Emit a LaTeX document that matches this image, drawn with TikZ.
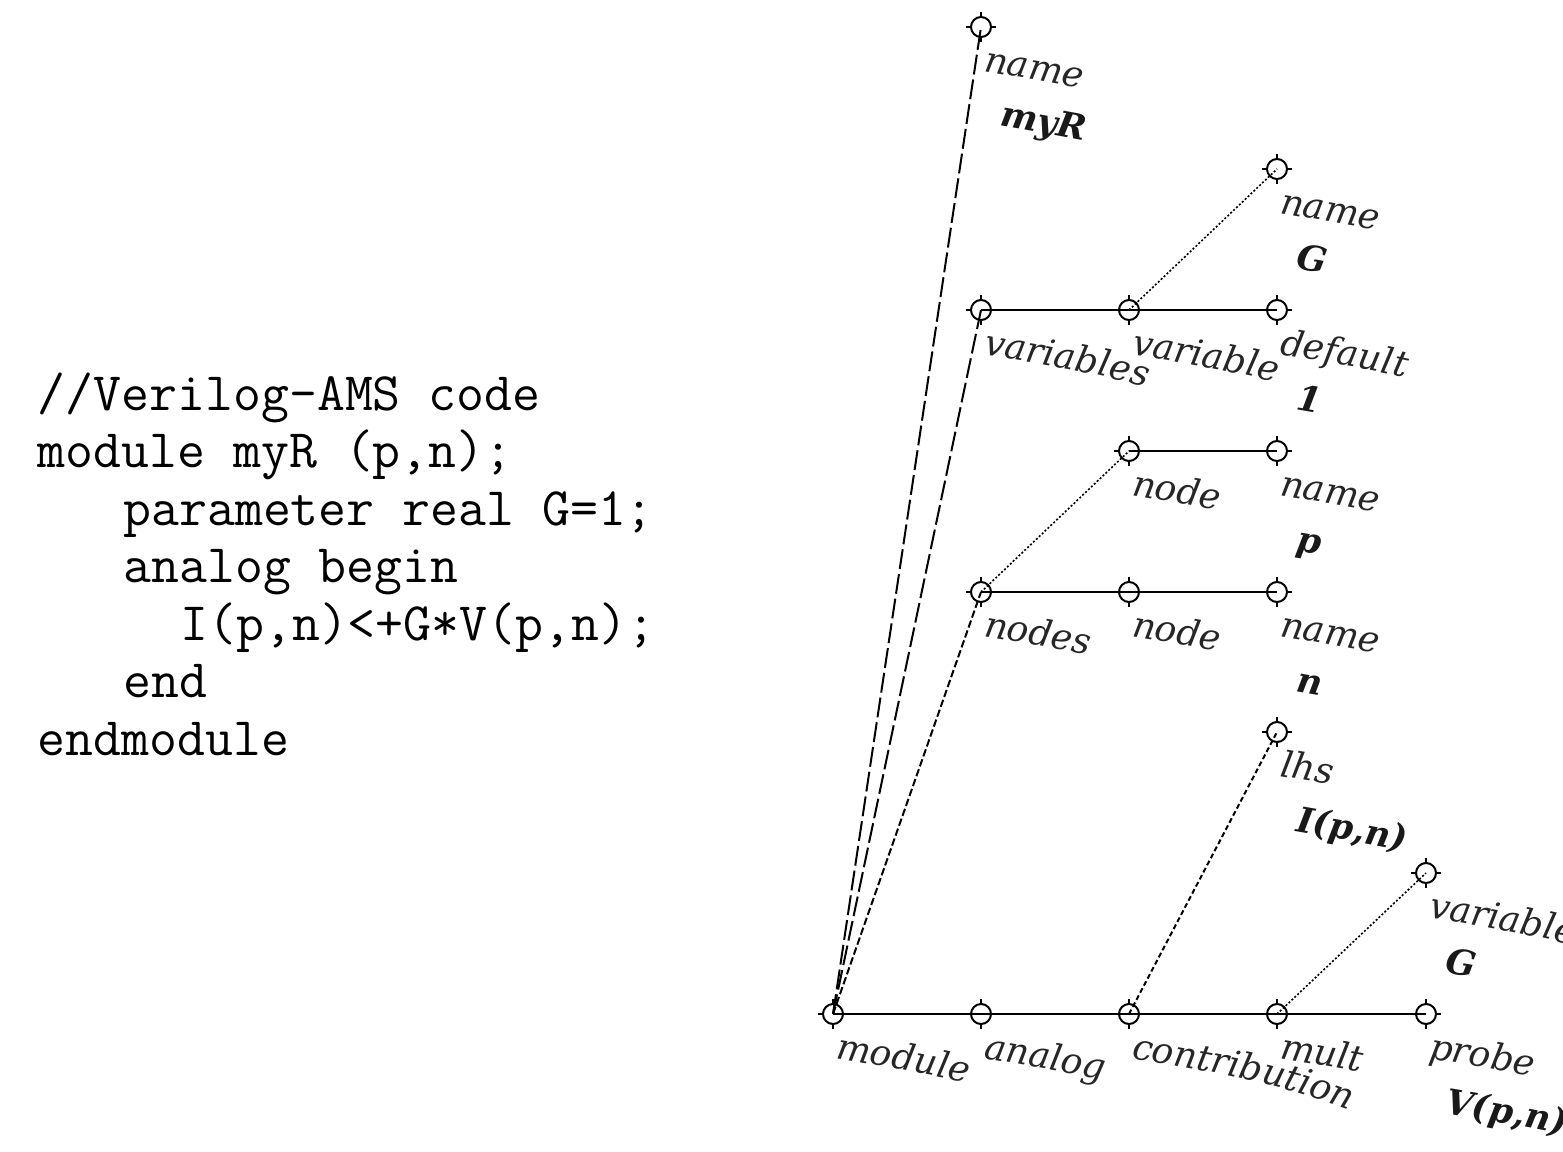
\documentclass[tikz,border=0pt]{standalone}
\usepackage{fontspec}
\usetikzlibrary{calc,decorations.text}
\newfontfamily\dvserif{DejaVu Serif}
\newcommand\lblfont{\dvserif\itshape\fontsize{18}{18}\selectfont\color{black!85}}
\newcommand\valfont{\dvserif\bfseries\itshape\fontsize{17.5}{17.5}\selectfont\color{black!90}}
\newcommand\codesize{\ttfamily\fontsize{27.1}{30}\selectfont}
\tikzset{
  tnode/.style={circle, draw, line width=1pt, minimum size=10pt, inner sep=0pt, outer sep=0pt},
  solidlink/.style={line width=1pt},
  longdash/.style={line width=1pt, dash pattern=on 10pt off 2.5pt},
  meddash/.style={line width=1pt, dash pattern=on 3.75pt off 1.5pt},
  dotlink/.style={line width=0.8pt, dash pattern=on 1pt off 1pt},
  dotlinkb/.style={line width=1pt, dash pattern=on 2.5pt off 1.5pt},
  codeline/.style={anchor=base west, inner sep=0pt, outer sep=0pt, font=\codesize},
  tickmark/.style={line width=1pt},
}
\newcommand\tickson[1]{%
  \draw[tickmark] (#1.north) -- ++(0,-5);
  \draw[tickmark] (#1.south) -- ++(0,5);
  \draw[tickmark] (#1.east) -- ++(5,0);
  \draw[tickmark] (#1.west) -- ++(-5,0);
}
\newcommand\namelbl[2]{%
  \path[decorate,decoration={text along path,text={|\lblfont|#2}}]
    ($(#1.center)+(2,44)$) .. controls ($(#1.center)+(152,70)$) .. ($(#1.center)+(302,126)$);
}
\newcommand\vallbl[2]{%
  \path[decorate,decoration={text along path,text={|\valfont|#2}}]
    ($(#1.center)+(18,99)$) .. controls ($(#1.center)+(168,125)$) .. ($(#1.center)+(318,181)$);
}
\begin{document}
\begin{tikzpicture}[x=0.5pt,y=-0.5pt]
\useasboundingbox (0,0) rectangle (1563,1151);

% code listing
\node[codeline] (c1) at (38,410)   {//Verilog-AMS code};
\node[codeline] (c2) at (38,467.5) {module myR (p,n);};
\node[codeline] (c3) at (123.5,525)   {parameter real G=1;};
\node[codeline] (c4) at (123.5,582.5) {analog begin};
\node[codeline] (c5) at (180.5,640)   {I(p,n)<+G*V(p,n);};
\node[codeline] (c6) at (123.5,697.5) {end};
\node[codeline] (c7) at (38,755)   {endmodule};

% tree nodes
\node[tnode] (mod)  at (833,1014) {};
\node[tnode] (ana)  at (981,1014) {};
\node[tnode] (con)  at (1129,1014) {};
\node[tnode] (mul)  at (1277,1014) {};
\node[tnode] (prb)  at (1426,1014) {};
\node[tnode] (nmR)  at (981,27) {};
\node[tnode] (nmG)  at (1277,169) {};
\node[tnode] (vars) at (981,310) {};
\node[tnode] (var)  at (1129,310) {};
\node[tnode] (dflt) at (1277,310) {};
\node[tnode] (nda)  at (1129,451) {};
\node[tnode] (nmp)  at (1277,451) {};
\node[tnode] (nds)  at (981,592) {};
\node[tnode] (ndb)  at (1129,592) {};
\node[tnode] (nmn)  at (1277,592) {};
\node[tnode] (lhs)  at (1277,732) {};
\node[tnode] (vG)   at (1426,873) {};

\foreach \n in {mod,ana,con,mul,prb,nmR,nmG,vars,var,dflt,nda,nmp,nds,ndb,nmn,lhs,vG}{\tickson{\n}}

% connectors
\draw[longdash] (mod.center) -- (nmR.center);
\draw[longdash] (mod.center) -- (vars.center);
\draw[meddash]  (mod.center) -- (nds.center);
\draw[solidlink] (mod.center) -- (ana.center) -- (con.center) -- (mul.center) -- (prb.center);
\draw[solidlink] (vars.center) -- (var.center) -- (dflt.center);
\draw[dotlink] (var.center) -- (nmG.center);
\draw[dotlink] (nds.center) -- (nda.center);
\draw[solidlink] (nda.center) -- (nmp.center);
\draw[solidlink] (nds.center) -- (ndb.center) -- (nmn.center);
\draw[dotlinkb] (con.center) -- (lhs.center);
\draw[dotlink] (mul.center) -- (vG.center);

% labels
\namelbl{mod}{module}
\namelbl{ana}{analog}
\namelbl{con}{contribution}
\namelbl{mul}{mult}
\namelbl{prb}{probe}
\vallbl{prb}{V(p,n)}
\namelbl{nmR}{name}
\vallbl{nmR}{myR}
\namelbl{nmG}{name}
\vallbl{nmG}{G}
\namelbl{vars}{variables}
\namelbl{var}{variable}
\namelbl{dflt}{default}
\vallbl{dflt}{1}
\namelbl{nda}{node}
\namelbl{nmp}{name}
\vallbl{nmp}{p}
\namelbl{nds}{nodes}
\namelbl{ndb}{node}
\namelbl{nmn}{name}
\vallbl{nmn}{n}
\namelbl{lhs}{lhs}
\vallbl{lhs}{I(p,n)}
\namelbl{vG}{variable}
\vallbl{vG}{G}
\end{tikzpicture}
\end{document}
